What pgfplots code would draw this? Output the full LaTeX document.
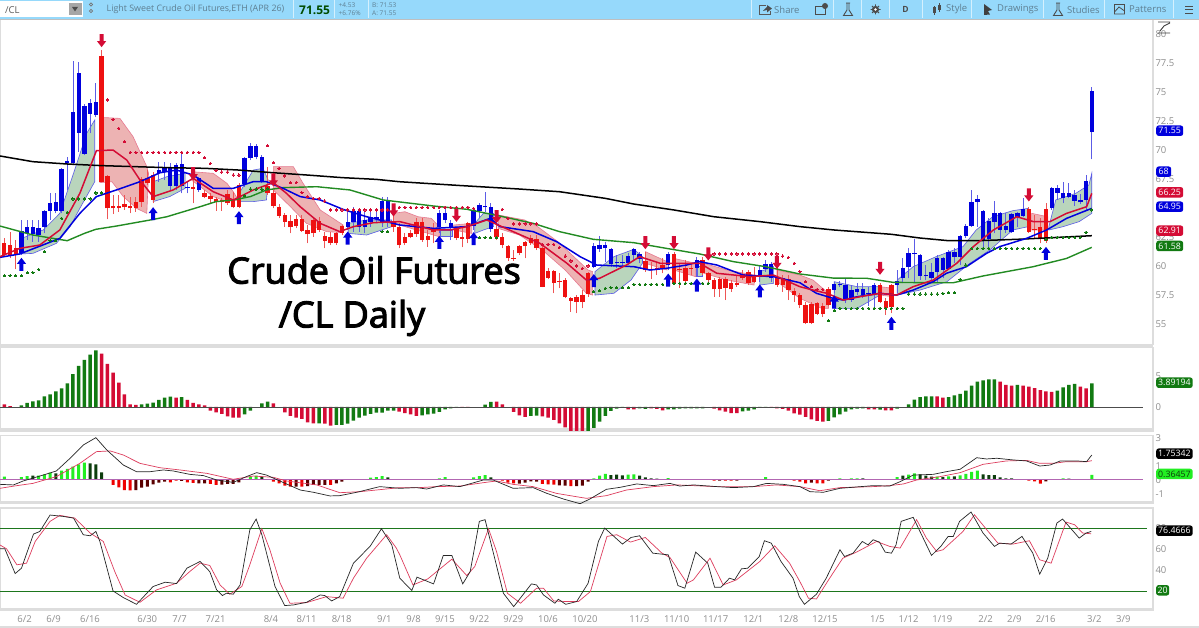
\documentclass[border=0pt]{standalone}
\usepackage{fontspec}
\usepackage{pgfplots}
\usepackage{pgfplotstable}
\pgfplotsset{compat=1.18}
\setmainfont{Open Sans}
\newfontfamily\bigf[FakeBold=3]{Open Sans}
\definecolor{tb}{HTML}{96D9FB}
\definecolor{tbt}{HTML}{5E7F92}
\definecolor{gt}{HTML}{8E8E8E}
\definecolor{cb}{HTML}{0000DD}
\definecolor{cbw}{HTML}{5C5CE6}
\definecolor{cr}{HTML}{EE1111}
\definecolor{crw}{HTML}{EE5555}
\definecolor{ar}{HTML}{D40C35}
\definecolor{gfill}{HTML}{B9D5BC}
\definecolor{rfill}{HTML}{EDB3B3}
\definecolor{gline}{HTML}{228B22}
\definecolor{hg}{HTML}{127A12}
\definecolor{hr}{HTML}{D40C35}
\definecolor{mlg}{HTML}{22EE22}
\definecolor{mdg}{HTML}{0D3D0D}
\definecolor{mr}{HTML}{EE0000}
\definecolor{mdr}{HTML}{5A0000}
\definecolor{sep}{HTML}{DDDDDD}
\pgfdeclareplotmark{dnarrow}{%
 \pgfpathmoveto{\pgfqpoint{-2pt}{6.5pt}}%
 \pgfpathlineto{\pgfqpoint{2pt}{6.5pt}}%
 \pgfpathlineto{\pgfqpoint{2pt}{-.5pt}}%
 \pgfpathlineto{\pgfqpoint{4.6pt}{-.5pt}}%
 \pgfpathlineto{\pgfqpoint{0pt}{-6.5pt}}%
 \pgfpathlineto{\pgfqpoint{-4.6pt}{-.5pt}}%
 \pgfpathlineto{\pgfqpoint{-2pt}{-.5pt}}%
 \pgfpathclose\pgfusepathqfill}
\pgfdeclareplotmark{uparrow}{%
 \pgfpathmoveto{\pgfqpoint{-2pt}{-6.5pt}}%
 \pgfpathlineto{\pgfqpoint{2pt}{-6.5pt}}%
 \pgfpathlineto{\pgfqpoint{2pt}{.5pt}}%
 \pgfpathlineto{\pgfqpoint{4.6pt}{.5pt}}%
 \pgfpathlineto{\pgfqpoint{0pt}{6.5pt}}%
 \pgfpathlineto{\pgfqpoint{-4.6pt}{.5pt}}%
 \pgfpathlineto{\pgfqpoint{-2pt}{.5pt}}%
 \pgfpathclose\pgfusepathqfill}
\pgfplotstableread{
i L B T H
3 60.98 61.12 63.07 63.99
4 62.27 62.84 63.36 63.99
5 62.13 62.76 63.36 63.99
6 62.13 62.70 63.27 63.99
7 62.84 63.36 64.79 64.85
8 63.99 64.79 65.42 66.28
9 64.56 64.79 65.50 66.34
10 64.56 64.79 68.34 68.43
11 66.57 68.86 69.09 69.43
12 68.71 68.91 73.24 77.68
13 69.86 71.49 76.59 77.59
14 69.57 69.66 73.78 73.96
15 71.43 73.10 74.01 74.36
16 72.81 73.01 74.10 75.79
27 67.28 68.00 68.29 68.99
28 67.42 68.14 68.43 68.99
29 66.57 66.91 68.49 68.86
30 66.57 66.91 68.71 68.91
31 66.28 66.91 68.77 69.86
32 66.28 66.71 66.85 67.28
34 66.42 66.57 67.57 67.71
42 66.85 67.08 69.34 69.43
43 69.14 69.34 70.37 70.57
44 69.20 69.43 70.37 70.52
45 67.14 67.28 69.43 69.57
60 63.13 63.42 63.85 64.70
61 62.99 63.85 64.79 65.13
62 62.99 63.42 64.79 64.99
63 62.84 63.42 63.99 64.70
64 63.42 63.85 64.27 64.99
65 63.70 64.05 64.27 64.85
66 63.42 63.76 65.62 66.00
67 63.42 63.76 65.62 66.00
76 62.84 63.36 64.62 64.85
77 63.70 63.99 64.62 64.90
78 62.27 63.36 63.76 63.99
82 63.13 63.50 64.85 64.99
83 64.13 64.76 65.28 65.48
84 64.70 65.08 65.19 66.42
85 62.99 63.19 65.08 65.48
103 59.84 59.98 61.78 61.98
104 61.27 61.47 61.84 62.61
105 60.41 61.55 61.84 62.13
106 59.98 60.18 61.50 61.55
107 59.84 60.27 60.41 60.98
108 59.98 60.32 60.41 60.98
109 60.12 60.27 60.93 61.12
110 60.55 60.98 61.47 61.55
111 60.27 60.61 61.07 61.27
116 59.69 60.12 61.07 61.27
121 59.12 59.89 60.55 60.84
132 58.69 59.12 59.69 60.12
133 59.55 59.75 60.18 60.55
134 58.69 58.98 60.18 60.41
145 57.69 57.97 58.49 58.69
146 58.26 58.37 58.49 58.75
147 56.83 57.11 58.40 58.98
148 56.97 57.11 57.97 58.40
149 57.54 57.83 58.06 58.55
150 57.26 57.54 58.03 58.55
151 56.60 57.63 57.69 58.20
152 56.40 57.54 58.40 58.60
156 57.69 58.40 58.78 59.69
157 58.55 58.98 59.84 60.69
158 58.98 59.98 61.12 61.55
159 58.69 61.07 61.12 62.33
160 58.83 59.18 60.98 61.07
161 58.83 59.18 59.26 60.12
162 58.55 58.98 59.55 60.27
163 58.55 59.55 60.69 60.98
164 58.98 59.69 60.69 60.84
165 59.69 59.75 61.27 61.41
166 60.27 60.84 61.21 61.55
167 60.12 60.84 62.61 62.70
168 62.41 62.61 63.50 63.65
169 63.42 63.50 65.57 66.57
170 63.42 65.57 65.77 66.14
171 61.55 62.27 64.76 64.85
172 61.41 62.33 63.93 64.13
173 62.84 63.85 64.56 65.62
174 62.27 63.13 64.62 64.70
175 62.84 63.13 63.47 64.56
176 62.90 62.99 64.48 64.56
177 63.42 64.27 64.56 64.70
178 64.27 64.33 64.93 65.85
183 64.85 64.99 66.71 66.85
184 65.71 66.34 66.71 67.00
185 65.42 65.92 66.34 67.28
186 65.85 66.00 66.34 67.20
187 65.19 65.62 66.14 66.57
188 65.36 65.50 65.71 66.22
189 64.85 65.71 67.37 67.85
190 69.20 71.55 75.10 75.39
}\bluecandles
\pgfplotstableread{
i L B T H
0 60.84 60.98 61.98 62.41
1 60.69 60.98 61.84 62.99
2 59.75 61.07 61.55 62.27
17 67.28 67.28 78.08 78.60
18 64.05 64.99 67.77 67.85
19 64.50 64.99 65.19 66.14
20 64.70 64.99 65.22 66.14
21 64.85 65.08 65.36 66.14
22 64.56 64.99 65.19 66.00
23 64.70 64.99 65.57 66.00
24 65.13 65.57 67.48 67.71
25 67.00 67.20 67.57 68.29
26 65.42 65.71 67.85 68.14
33 65.42 66.65 66.85 68.00
35 65.85 66.00 66.34 66.57
36 65.42 65.77 66.05 66.28
37 64.79 65.50 65.77 66.00
38 64.79 65.50 65.71 65.85
39 65.28 65.42 66.22 66.57
40 64.99 65.08 65.80 66.42
41 64.99 65.08 67.00 67.14
46 66.14 66.28 66.91 68.57
47 64.99 65.22 66.34 66.57
48 64.13 64.36 65.13 65.36
49 63.42 63.85 64.42 64.56
50 62.84 63.36 63.93 64.42
51 63.27 63.47 64.05 64.42
52 62.99 63.07 64.05 64.42
53 61.98 62.76 63.13 63.56
54 62.56 62.84 63.99 64.27
55 62.99 63.13 63.93 64.27
56 61.55 62.21 62.61 62.99
57 61.84 61.98 62.56 62.99
58 61.84 61.98 62.84 62.99
59 62.70 62.90 63.47 63.56
68 62.99 63.42 63.85 64.56
69 61.55 61.84 63.42 63.70
70 61.84 61.98 62.50 62.84
71 62.41 62.50 62.84 63.13
72 62.56 62.76 63.85 64.13
73 62.13 62.27 63.85 64.13
74 61.70 62.27 62.61 63.13
75 61.98 62.99 63.27 63.70
79 62.27 62.41 63.27 63.42
80 61.64 62.38 62.50 63.27
81 61.98 62.36 63.70 63.85
86 62.27 62.50 63.19 64.85
87 61.55 61.84 62.50 62.84
88 60.49 60.69 61.78 61.84
89 60.49 60.66 60.72 61.41
90 60.98 61.12 61.78 61.84
91 60.69 61.75 62.13 62.21
92 61.84 62.04 62.41 62.70
93 61.41 61.55 62.36 62.70
94 58.20 58.26 61.55 61.84
95 58.89 59.00 59.64 59.84
96 57.69 58.60 59.64 59.69
97 58.12 58.66 58.75 59.41
98 57.26 57.40 58.83 58.98
99 56.11 57.03 57.32 57.40
100 55.97 56.97 57.40 57.54
101 56.40 56.97 57.54 57.97
102 57.40 57.63 59.41 59.55
112 59.55 59.69 60.49 61.27
113 58.89 59.69 59.75 60.41
114 59.26 59.69 59.89 60.27
115 59.41 59.84 60.12 60.69
117 58.55 58.60 61.07 61.27
118 58.12 59.75 59.81 60.27
119 58.69 58.75 59.84 60.55
120 59.26 59.78 59.84 60.27
122 59.26 59.41 60.55 60.84
123 58.55 58.83 59.41 59.55
124 57.40 58.03 58.83 58.98
125 57.40 58.09 58.89 59.12
126 57.11 58.12 58.89 59.12
127 57.83 58.03 58.55 58.83
128 58.26 58.40 58.60 59.26
129 58.83 58.98 59.35 59.69
130 58.40 58.60 59.55 59.69
131 58.55 58.69 59.26 59.98
135 58.26 58.40 58.98 60.84
136 57.83 58.40 58.98 59.26
137 57.11 57.97 58.89 59.26
138 56.97 57.54 57.92 58.12
139 56.40 56.68 57.54 57.69
140 55.05 55.11 56.68 56.97
141 55.05 55.11 56.77 56.97
142 55.83 55.91 56.83 56.97
143 55.68 55.88 56.60 56.83
144 56.60 56.68 58.03 58.20
153 56.83 56.97 58.37 58.60
154 55.83 56.40 57.06 57.26
155 55.97 56.54 58.40 58.49
179 62.90 62.99 64.90 65.13
180 62.41 63.13 63.19 64.42
181 61.98 62.33 63.36 64.13
182 62.04 62.21 64.93 65.42
}\redcandles
\pgfplotsset{panel/.style={scale only axis, width=1153pt, xmin=-0.75, xmax=200.7,
  anchor=south west, axis line style={draw=sep,line width=1.4pt},
  tick style={draw=none}, xtick=\empty, ymajorgrids=false,
  yticklabel pos=right, yticklabel style={anchor=west,text=gt,font=\fontsize{9.5}{11}\selectfont,xshift=-1pt},
  clip=true},
  sar/.style={only marks,mark=*,mark size=1.15pt,mark options={draw=#1,fill=#1,line width=0pt}},
  wk/.style 2 args={draw=none,no marks,error bars/.cd,y dir=plus,y explicit,error mark=none,error bar style={line width=#1,color=#2}}}
\begin{document}
\begin{tikzpicture}[x=1pt,y=1pt]
\useasboundingbox (0,0) rectangle (1199,628);
\fill[white] (0,0) rectangle (1199,628);
\fill[sep] (0,280.3) rectangle (1153,284);
\fill[sep] (0,197) rectangle (1153,200.3);
\fill[sep] (0,124.3) rectangle (1153,126.7);
\fill[sep] (0,18) rectangle (1153,19.5);
\fill[sep] (0,0) rectangle (1199,2.2);
%% main
\begin{axis}[panel, at={(0pt,283.7pt)}, height=325.3pt, ymin=53.31, ymax=81.26,
  ytick={55,57.5,60,62.5,65,67.5,70,72.5,75,77.5,80},
  yticklabels={55,57.5,60,62.5,65,67.5,70,72.5,75,77.5,80}]
\pgfplotsset{gc/.style={fill=gfill,draw=cbw,line width=.6pt},rc/.style={fill=rfill,draw=ar!55!white,line width=.6pt}}
\addplot[gc] coordinates {(3,62.41)(6.8,63.13)(9.7,64.56)(12.1,68)(14.4,71.44)(15.8,72.58)(15.8,67.28)(13.2,64.99)(11.5,63.42)(9.1,61.98)(5,61.12)(2.7,61.07)} -- cycle;
\addplot[rc] coordinates {(16.7,72.81)(20.2,72.72)(22.5,71.15)(24.9,68.57)(25.2,68)(24.9,64.56)(23.1,64.99)(20.8,66)(18.8,67.28)(16.7,67.2)} -- cycle;
\addplot[gc] coordinates {(26,67.28)(28.4,67.71)(31.6,68)(31.6,66.71)(28.9,66)(26,65.57)} -- cycle;
\addplot[rc] coordinates {(32.7,68.14)(36.5,68)(38.9,67.14)(40,66.42)(40.9,65.71)(38.9,65.57)(36.5,66)(32.7,67.43)} -- cycle;
\addplot[gc] coordinates {(41.2,66.42)(43.5,68.28)(45.2,68.43)(46.1,67.43)(45.8,65.71)(43.5,65.57)(41.2,65.57)} -- cycle;
\addplot[rc] coordinates {(47,68.57)(50.5,68.57)(52.2,67.14)(55.2,64.85)(59.2,63.56)(59.2,62.9)(56.3,62.99)(52.8,63.7)(50,65.13)(47,66.57)} -- cycle;
\addplot[gc] coordinates {(60.1,63.7)(63.3,63.99)(67.7,63.99)(67.7,63.42)(63.3,62.7)(60.1,62.84)} -- cycle;
\addplot[rc] coordinates {(68,64.56)(70,64.7)(72.3,64.27)(74.6,64.13)(76,63.42)(76,62.55)(73,62.99)(70,63.42)(68,63.7)} -- cycle;
\addplot[gc] coordinates {(76.2,63.13)(78.2,63.13)(78.2,62.56)(76.2,62.56)} -- cycle;
\addplot[rc] coordinates {(78.5,63.56)(81.7,63.7)(81.7,62.84)(78.5,63.13)} -- cycle;
\addplot[gc] coordinates {(82.2,63.7)(83.7,64.56)(85.5,64.56)(85.5,63.42)(83.7,63.13)(82.2,62.84)} -- cycle;
\addplot[rc] coordinates {(86.3,64.42)(90.9,63.99)(93.2,63.42)(96.7,62.13)(102,59.69)(102.8,59.55)(102.8,57.54)(101.7,57.69)(98,59.69)(94,61.41)(90,62.7)(86.3,63.27)} -- cycle;
\addplot[gc] coordinates {(103.2,59.55)(106.5,60.84)(110,61.47)(111.5,60.84)(111.5,60.27)(109.5,58.83)(106.5,57.69)(103.2,57.54)} -- cycle;
\addplot[rc] coordinates {(112,61.27)(115.8,60.41)(115.8,59.69)(112,60.27)} -- cycle;
\addplot[rc] coordinates {(117,60.69)(120.8,60.27)(120.8,59.12)(117,59.69)} -- cycle;
\addplot[gc] coordinates {(121,59.98)(122,59.98)(122,59.12)(121,59.12)} -- cycle;
\addplot[rc] coordinates {(122.2,60.27)(126.3,59.69)(131,59.26)(131,58.4)(126.3,58.83)(122.2,59.41)} -- cycle;
\addplot[gc] coordinates {(132,59.55)(134.4,59.98)(134.4,58.55)(132,58.4)} -- cycle;
\addplot[rc] coordinates {(135,59.69)(139,59.26)(141.3,58.83)(144,57.69)(144,56.4)(142.8,56.4)(139,57.26)(135,58.69)} -- cycle;
\addplot[gc] coordinates {(145,58.69)(149,58.26)(153,58.26)(153,57.54)(149,56.4)(145,56.4)} -- cycle;
\addplot[rc] coordinates {(153,58.26)(155.3,58.12)(155.3,57.4)(153,57.54)} -- cycle;
\addplot[gc] coordinates {(156,58.83)(158.8,59.98)(162.8,60.84)(167.5,61.7)(169.8,63.13)(172.7,64.27)(176.2,64.79)(178.9,64.99)(178.9,63.42)(176.2,63.13)(172.2,61.41)(168.7,60.27)(164.7,58.69)(160,57.97)(156,57.54)} -- cycle;
\addplot[rc] coordinates {(179.5,64.56)(182.3,64.27)(182.3,63.13)(179.5,63.13)} -- cycle;
\addplot[gc] coordinates {(182.5,63.42)(183.7,65.71)(187.2,66.28)(189.5,67)(190,68)(190,64.56)(187.8,63.85)(185,63.42)(182.5,63.13)} -- cycle;
%% wicks and bodies
\addplot[wk={.9pt}{cbw}] table[x=i,y=L,y error expr=\thisrow{H}-\thisrow{L}] {\bluecandles};
\addplot[wk={.9pt}{crw}] table[x=i,y=L,y error expr=\thisrow{H}-\thisrow{L}] {\redcandles};
\addplot[wk={4.4pt}{cb}] table[x=i,y=B,y error expr=\thisrow{T}-\thisrow{B}] {\bluecandles};
\addplot[wk={4.4pt}{cr}] table[x=i,y=B,y error expr=\thisrow{T}-\thisrow{B}] {\redcandles};
%% green long MA
\addplot[gline,line width=1.4pt] coordinates {(-.75,63.47)(5,62.7)(11,62.21)(14,62.84)(16,63.19)(19.6,63.47)(25.5,63.99)(28.4,64.27)(34.2,65.13)(37,65.57)(40,65.71)(43,66)(45.8,66.57)(48.7,66.77)(54.6,66.85)(60.4,66.57)(66.2,65.71)(75,65.19)(80.8,64.91)(86.6,64.33)(92.4,63.7)(97,62.99)(102.9,62.33)(110,62.04)(115.7,61.55)(121.5,61.07)(127.4,60.41)(133,59.98)(139,59.35)(144.8,59)(150.7,58.98)(155.3,58.63)(162.3,58.6)(165.8,58.6)(171,59.18)(179.8,59.98)(185.6,60.69)(190,61.64)};
%% black MA
\addplot[black,line width=1.5pt] coordinates {(-.75,69.49)(5,69)(11,68.8)(17,68.66)(23,68.57)(29,68.48)(35,68.43)(41,68.28)(47,68.05)(53,67.85)(59,67.63)(65,67.48)(69,67.28)(80,66.94)(90,66.65)(97,66.42)(105,65.85)(110,65.36)(117,64.85)(124,64.27)(132,63.85)(139,63.42)(145,63.13)(155,62.76)(160,62.44)(165,62.21)(170,62.21)(177,62.33)(183,62.47)(190,62.64)};
%% blue
\addplot[cb,line width=1.5pt] coordinates {(-.75,60.78)(2.7,61.07)(9.7,62.41)(13.2,64.56)(16.1,66)(19.6,66.57)(23.7,67.28)(27.2,68.05)(30.1,68.28)(33,67.85)(36.5,66.71)(40,66.71)(43.5,67.28)(45.8,67.28)(48.7,66.71)(51.7,66)(55.2,65.71)(59.2,64.9)(63.3,64.27)(69.1,63.56)(75,63.27)(80.8,63.42)(84.9,64.13)(86.6,63.42)(92.4,62.99)(96.5,62.13)(100.6,60.84)(103.5,60.12)(110,59.98)(112.8,59.69)(115.7,59.84)(119.2,60.12)(121.5,60.41)(124.5,60.12)(129.1,59.26)(134.4,59.12)(139,58.6)(141.9,57.69)(144.8,57.26)(146.6,57.11)(149,57.4)(153,57.69)(155.9,57.54)(158.8,57.97)(162.3,58.69)(164.6,59.41)(168.1,59.98)(171.6,61.12)(173.9,61.7)(178.6,62.41)(182.1,63.13)(185.6,64.13)(190,64.99)};
%% red
\addplot[ar,line width=1.5pt] coordinates {(-.75,60.84)(2.7,61.55)(6.2,61.84)(9.7,63.13)(13.2,66.28)(16.1,69.95)(19,70)(21.4,69.14)(23.7,67.43)(26,66)(29.5,66.57)(33,67.57)(36.5,66.42)(40,65.71)(43.5,66.57)(47,67.2)(49.3,66.28)(51.7,65.13)(55.2,63.7)(58.6,62.99)(61,63.42)(64.5,63.76)(69.1,63.85)(75,63.13)(77.9,63.13)(80.8,63.42)(84.3,63.99)(88.9,62.99)(93.6,61.98)(98.3,60.27)(101.7,58.83)(104,58.98)(108.7,60.12)(111,60.84)(114.6,60.27)(118,60.27)(121.5,60.27)(124.5,59.41)(130.3,59.12)(134.4,59.26)(139,58.26)(140.8,58.03)(143.7,57.69)(146.6,57.11)(149.5,57.4)(153,57.69)(155.9,57.54)(158.8,58.26)(162.3,58.83)(166.4,60.27)(169.3,61.7)(172.8,63.13)(176.9,64.27)(179.8,63.85)(182.7,63.85)(185.6,64.56)(189.1,65.13)(190,66.28)};
%% SAR
\addplot[sar=hg] coordinates {(0,59.2)(1,59.2)(2,59.2)(3,59.2)(4,59.46)(5,59.46)(6,59.75)(7,61.27)(8,62.21)(9,62.21)(10,64.13)(11,64.65)(12,65.8)(13,65.8)(14,65.8)(15,65.8)(16,66.31)(17,66.31)(42,66.08)(43,66.65)(44,66.65)(45,66.65)(46,66.71)(66,62.99)(67,62.99)(83,62.47)(84,62.47)(85,62.47)(86,62.47)(103,57.83)(104,57.92)(105,58.12)(106,58.17)(107,58.17)(108,58.17)(109,58.17)(110,58.46)(111,58.46)(112,58.46)(113,58.46)(114,58.46)(115,58.46)(116,58.46)(117,58.55)(118,58.55)(119,58.55)(120,58.55)(121,58.55)(122,58.55)(123,58.55)(144,55.34)(145,56.2)(146,56.4)(147,56.4)(148,56.4)(149,56.4)(150,56.4)(151,56.4)(152,56.4)(153,56.4)(154,56.4)(155,56.4)(156,56.4)(157,56.4)(158,57.63)(159,57.63)(160,57.63)(161,57.63)(162,57.63)(163,57.63)(164,57.68)(165,57.74)(166,57.74)(167,58.89)(168,60.12)(169,61.55)(170,61.55)(171,61.55)(172,61.55)(173,61.55)(174,61.55)(175,61.55)(176,61.55)(177,61.55)(178,61.55)(179,61.55)(180,61.55)(181,61.55)(182,62.33)(183,62.5)(184,62.5)(185,62.5)(186,62.5)(187,62.5)(188,62.5)(189,62.93)(190,64.85)};
\addplot[sar=ar] coordinates {(18,74.3)(19,72.64)(20,71.87)(21,70.72)(22,69.8)(23,69.8)(24,69.8)(25,69.8)(26,69.8)(27,69.8)(28,69.8)(29,69.8)(30,69.8)(31,69.8)(32,69.8)(33,69.8)(34,69.8)(35,69.34)(36,68.86)(37,68.23)(38,68.11)(39,68.11)(40,67.85)(41,67.85)(46,70.37)(47,68.91)(48,68.43)(49,67.77)(50,67.2)(51,67.2)(52,66.34)(53,66)(54,65.85)(55,65.85)(56,65.62)(57,64.85)(58,64.85)(59,64.85)(60,64.85)(61,64.85)(62,64.85)(63,64.85)(64,64.85)(65,64.85)(66,64.85)(67,64.85)(68,65.08)(69,65.08)(70,65.08)(71,65.08)(72,65.08)(73,65.08)(74,65.08)(75,65.08)(76,65.08)(77,65.08)(78,65.08)(79,65.08)(80,65.08)(81,65.08)(82,64.99)(87,64.9)(88,64.13)(89,63.65)(90,63.65)(91,63.65)(92,63.65)(93,63.65)(94,61.9)(95,61.9)(96,61.9)(97,61.64)(98,60.89)(99,60.47)(100,60.04)(101,59.84)(102,60.04)(124,61.07)(125,61.07)(126,61.07)(127,61.07)(128,61.07)(129,61.07)(130,61.07)(131,61.07)(132,61.07)(133,61.07)(134,61.07)(135,61.07)(136,60.89)(137,60.78)(138,60.27)(139,59.55)(140,58.69)(141,58.26)(142,58.03)(143,58.03)};
%% arrows
\addplot[only marks,mark=dnarrow,mark options={fill=ar,draw=none}] coordinates {(17,79.4)(33,67.97)(47,67.43)(68,64.85)(79,64.39)(86,64.27)(112,62.04)(117,62.04)(123,61.07)(135,60.35)(153,59.84)(179,66.14)};
\addplot[only marks,mark=uparrow,mark options={fill=cb,draw=none}] coordinates {(3,60.18)(26,64.53)(41,64.19)(60,62.44)(76,62.07)(82,62.38)(103,58.78)(116,58.83)(121,58.4)(132,57.89)(145,56.94)(155,55.11)(182,61.12)};
\end{axis}
%% histogram
\begin{axis}[panel, at={(0pt,197pt)}, height=83.3pt, ymin=-3.95, ymax=9.75, ytick={0,5}, yticklabels={0,5}]
\addplot[ybar,bar width=3.5pt,bar shift=0pt,fill=hg,draw=none] coordinates {(3,.27)(4,.66)(5,.93)(6,1.1)(7,1.75)(8,2.08)(9,2.58)(10,3.07)(11,3.89)(12,5.42)(13,6.74)(14,7.73)(15,8.6)(16,9.32)(24,.44)(25,.55)(26,.71)(27,1.15)(28,1.53)(29,1.7)(31,1.64)(42,-1.2)(43,-.6)(45,.6)(46,.88)(55,-2.68)(58,-2.96)(59,-2.96)(60,-2.74)(61,-2.25)(62,-1.75)(63,-1.42)(64,-1.15)(65,-.93)(66,-.93)(67,-.6)(68,-.6)(73,-1.37)(74,-1.2)(75,-1.1)(76,-.82)(77,-.38)(78,-.22)(79,-.05)(84,.38)(85,.82)(92,-1.48)(93,-1.42)(102,-4.05)(103,-3.45)(104,-2.41)(105,-1.48)(106,-.66)(107,-.27)(108,-.11)(111,-.22)(112,-.33)(116,-.38)(117,-.38)(118,-.27)(119,-.22)(120,-.22)(121,-.22)(122,-.22)(129,-.71)(130,-.6)(131,-.38)(132,-.11)(133,-.05)(144,-2.3)(145,-1.7)(146,-1.2)(147,-.77)(148,-.38)(149,-.27)(150,-.22)(153,-.44)(156,-.27)(158,.44)(159,1.2)(160,1.64)(161,1.75)(162,1.75)(165,1.64)(166,1.92)(167,2.14)(168,2.68)(169,3.5)(170,4.16)(171,4.38)(172,4.55)(173,4.55)(177,3.62)(184,2.68)(185,3.23)(186,3.62)(187,3.78)(190,3.89)};
\addplot[ybar,bar width=3.5pt,bar shift=0pt,fill=hr,draw=none] coordinates {(0,.44)(1,.16)(17,8.77)(18,7.07)(19,5.64)(20,4)(21,2.08)(22,.44)(23,.33)(30,1.53)(32,1.15)(33,.66)(34,.44)(35,.27)(36,-.6)(37,-.88)(38,-1.15)(39,-1.53)(40,-1.75)(41,-1.75)(47,.6)(49,-.88)(50,-1.48)(51,-1.75)(52,-1.97)(53,-2.52)(54,-2.68)(56,-2.74)(57,-3.07)(69,-.77)(70,-1)(71,-1.2)(72,-1.48)(80,-.05)(81,-.1)(86,.88)(87,.44)(89,-.82)(90,-1.37)(91,-1.64)(94,-1.53)(95,-1.75)(96,-2.14)(97,-2.68)(98,-3.34)(99,-3.95)(100,-4)(101,-4)(109,-.38)(110,-.38)(113,-.22)(114,-.33)(115,-.55)(124,-.27)(125,-.55)(126,-.77)(127,-1)(128,-1)(134,-.11)(135,-.22)(136,-.33)(137,-.6)(138,-1.04)(139,-1.26)(140,-1.64)(141,-2.03)(142,-2.3)(143,-2.41)(151,-.38)(152,-.38)(154,-.55)(155,-.55)(163,1.75)(164,1.53)(174,4.16)(175,3.62)(176,3.5)(178,3.5)(179,3.34)(180,3.12)(181,2.79)(182,2.58)(183,2.47)(188,3.34)(189,3.07)};
\addplot[black!70,line width=.9pt] coordinates {(-.75,0)(199,0)};
\end{axis}
%% MACD
\begin{axis}[panel, at={(0pt,124.3pt)}, height=68pt, ymin=-1.68, ymax=3.14, ytick={-1,0,1,3}, yticklabels={-1,0,1,3}]
\addplot[ybar,bar width=3pt,bar shift=0pt,fill=mlg,draw=none] coordinates {(0,.24)(3,.21)(4,.28)(6,.31)(7,.4)(8,.52)(10,.66)(11,.78)(12,.95)(13,1.11)(14,1.23)(43,.24)(44,.31)(63,.07)(64,.17)(65,.21)(66,.28)(76,.12)(77,.21)(82,.19)(83,.28)(84,.35)(103,.12)(104,.31)(105,.43)(109,.38)(110,.4)(116,.14)(132,.07)(133,.21)(146,.12)(148,.12)(149,.12)(156,.21)(158,.38)(159,.47)(163,.24)(165,.26)(167,.33)(168,.43)(169,.57)(170,.66)(184,.07)(185,.12)(190,.36)};
\addplot[ybar,bar width=3pt,bar shift=0pt,fill=mdg,draw=none] coordinates {(1,.07)(2,.05)(5,.31)(9,.47)(15,1.18)(16,1.11)(17,.54)(45,.24)(62,.03)(67,.19)(68,.07)(78,.07)(79,.05)(85,.19)(86,.05)(106,.35)(107,.38)(108,.33)(111,.31)(112,.19)(113,.12)(114,.09)(122,.05)(134,.07)(135,.05)(136,.05)(147,.07)(150,.12)(151,.07)(152,.05)(157,.31)(160,.4)(161,.31)(162,.24)(164,.21)(166,.26)(171,.4)(172,.35)(173,.35)(174,.19)(175,.12)(176,.12)(177,.05)(186,.09)(187,.05)};
\addplot[ybar,bar width=3pt,bar shift=0pt,fill=mr,draw=none] coordinates {(19,-.35)(20,-.52)(21,-.71)(22,-.73)(29,-.17)(30,-.05)(32,-.17)(33,-.21)(36,-.28)(37,-.35)(47,-.12)(48,-.24)(49,-.4)(50,-.47)(52,-.47)(57,-.35)(87,-.05)(88,-.19)(89,-.24)(94,-.28)(95,-.31)(96,-.33)(99,-.43)(124,-.05)(126,-.05)(127,-.05)(138,-.05)(139,-.12)(140,-.24)(142,-.24)(143,-.24)(179,-.05)(180,-.09)(181,-.26)};
\addplot[ybar,bar width=3pt,bar shift=0pt,fill=mdr,draw=none] coordinates {(23,-.71)(24,-.54)(25,-.47)(26,-.31)(27,-.19)(28,-.12)(31,-.07)(34,-.24)(35,-.24)(38,-.33)(39,-.28)(40,-.28)(41,-.17)(51,-.47)(53,-.43)(54,-.35)(55,-.35)(56,-.35)(58,-.24)(59,-.12)(90,-.26)(91,-.19)(92,-.09)(93,-.12)(97,-.38)(98,-.4)(100,-.43)(101,-.4)(102,-.12)(125,-.05)(128,-.05)(141,-.19)(144,-.05)(182,-.09)};
\addplot[violet!60!white,line width=1pt] coordinates {(-.75,0)(199,0)};
\addplot[ar!80!white,line width=.7pt] coordinates {(-.75,-.59)(2.2,-.4)(5,-.24)(9.1,.24)(13.2,1.18)(16.1,2.01)(18.5,2.06)(20.8,1.77)(23.7,1.18)(27.2,.87)(30.7,.71)(35.4,.47)(40,.05)(43.5,.28)(47,.19)(49.3,-.07)(54.6,-.35)(58.6,-.9)(62.1,-.83)(69.1,-.54)(72.6,-.54)(75.5,-.47)(79.6,-.43)(83.7,-.19)(86,-.07)(88.9,-.31)(92.4,-.47)(96.5,-.95)(101.7,-1.3)(105.2,-1.11)(108.7,-.71)(113.4,-.47)(117.5,-.35)(124.5,-.47)(130.9,-.47)(134.9,-.35)(139,-.47)(142.5,-.76)(146,-.54)(151.8,-.47)(154.7,-.4)(157.1,-.28)(159.4,0)(163.5,.24)(167,.52)(171,1.11)(175.1,1.35)(178.6,1.39)(180.9,1.18)(183.3,1.18)(185.6,1.3)(189.1,1.3)(190,1.37)};
\addplot[black!85,line width=.7pt] coordinates {(-.75,-.31)(1.6,-.35)(3.3,-.07)(6.8,.35)(9.1,.64)(11.5,1.54)(13.8,2.48)(16,3)(17.9,2.13)(20.8,1.06)(23.1,.59)(25.5,.59)(27.8,.71)(29.5,.64)(32.4,.4)(34.8,.31)(37.1,0)(40,-.17)(42.3,.24)(44.1,.52)(45.8,.35)(48.7,-.17)(51.7,-.71)(54,-.87)(56.9,-1.13)(58.6,-1.11)(61.6,-.87)(65.6,-.47)(69.1,-.59)(72,-.54)(73.8,-.64)(76.7,-.35)(79.6,-.47)(83.7,0)(85.4,0)(88.9,-.59)(92.4,-.54)(94.8,-.95)(97.7,-1.35)(100.6,-1.68)(102.3,-1.35)(105.2,-.66)(107.6,-.52)(110.5,-.28)(113.4,-.4)(116.3,-.24)(118,-.43)(120.4,-.35)(124.5,-.47)(127.4,-.54)(130.9,-.47)(133.2,-.24)(136.1,-.31)(139,-.47)(140.8,-.83)(143.1,-.87)(146,-.59)(151.8,-.4)(154.7,-.43)(156.5,-.12)(158.8,.35)(162.3,.4)(164.6,.59)(167,.76)(169.9,1.58)(171.6,1.49)(173.4,1.54)(176.3,1.42)(178.6,1.35)(180.9,.99)(182.7,1.06)(184.5,1.35)(187.4,1.35)(189.1,1.3)(190,1.77)};
\end{axis}
%% Stochastic
\begin{axis}[panel, at={(0pt,18pt)}, height=102pt, ymin=2.5, ymax=99.4, ytick={20,40,60,80}, yticklabels={20,40,60,80},
  xtick={3.55,8.62,14.97,24.98,30.63,36.92,46.59,52.82,58.94,66.39,71.52,76.99,83,88.93,94.99,101.45,110.95,117.47,124.28,130.86,136.98,143.39,152.53,158,163.89,171.46,176.47,181.94,190.45,195.51},
  xticklabels={6/2,6/9,6/16,6/30,7/7,7/21,8/4,8/11,8/18,9/1,9/8,9/15,9/22,9/29,10/6,10/20,11/3,11/10,11/17,12/1,12/8,12/15,1/5,1/12,1/19,2/2,2/9,2/16,3/2,3/9},
  major tick length=0pt, xticklabel style={text=gt,font=\fontsize{9.5}{11}\selectfont,yshift=-2pt}]
\addplot[gline!85!black,line width=.8pt] coordinates {(-.75,80)(199.7,80)};
\addplot[gline!85!black,line width=.8pt] coordinates {(-.75,20)(199.7,20)};
\addplot[ar!80!white,line width=.7pt] coordinates {(-.8,64.4)(.4,60.6)(2.2,45.4)(3.9,47)(5.4,67.6)(8,86.7)(9.7,92.4)(12.3,89.8)(15,75.6)(17.3,67.6)(19.3,39)(21.1,16.8)(23.7,9.8)(26.6,21.6)(30.1,27.9)(32.4,39)(34.2,47)(35.9,44.8)(37.7,26.3)(39.4,17.5)(41.5,24.8)(42.9,45.4)(45,79.7)(46.4,59.7)(48.2,27.9)(49.9,8.9)(52.8,9.5)(56.3,15.2)(59.2,13.7)(61,32.7)(63.3,51.7)(66.8,74)(68.5,61.3)(69.1,54.9)(71.4,26.3)(74,32.1)(78.2,50.8)(80.8,35.2)(82.2,43.8)(84.6,79.7)(86,58.1)(87.9,18.4)(90.2,8.9)(93,23.2)(94.2,23.2)(96,11.1)(98.3,10.5)(100.3,10.5)(102.4,20)(105.3,72.4)(107,74)(109.4,67)(112,71.4)(114.9,56.5)(116.3,52.4)(119.3,27.9)(120.4,31.1)(123.3,51.7)(125.6,26.3)(127.9,31.1)(132,48.6)(134.6,63.5)(137.2,47)(139,29.5)(140.5,13.7)(141.9,13)(144.2,32.7)(146.5,51.7)(148.9,57.5)(152.4,67.6)(154.7,62.9)(156.5,61.3)(159.4,88.3)(161.1,70.8)(162.9,58.1)(164,59.7)(167.5,77.1)(169.5,93)(171.9,77.1)(173.6,66)(176.2,65.1)(179.1,68.3)(180.9,50.2)(182.9,47)(185.5,86)(187,83.5)(188.4,75.6)(189.9,74.9)};
\addplot[black!85,line width=.7pt] coordinates {(-.8,60.6)(.1,60.6)(1.9,37.1)(3,42.2)(5.1,74.6)(6.2,77.1)(8,92.7)(10.3,91.4)(12.1,89.8)(13.8,74)(15,73)(16,77.1)(16.7,67.6)(19,20.6)(20.8,14.3)(23.1,7.9)(26,24.8)(28.1,28.9)(30.1,27.6)(31.9,42.2)(34.2,48.6)(35.9,39)(37.1,21.6)(38.1,16.2)(38.8,18.4)(40,17.5)(41.2,26.3)(42.9,78.7)(44,88.9)(45,74)(47.3,24.8)(49,6.7)(50.5,7.3)(52.8,9.8)(55.2,16.8)(56,16.2)(57.2,11.1)(58.6,15.2)(61,47)(63.9,62.9)(65.9,79.7)(67.7,64.4)(69.1,32.7)(71.2,21)(72.1,33.7)(75,27.3)(76.7,54.3)(78.2,54.3)(80.1,27.3)(81.4,39)(83,86.7)(84,88.3)(87.2,18.4)(89,5.7)(92.1,27.3)(93,26.3)(94.2,16.8)(96.2,8.9)(96.8,12.7)(98.1,7.9)(100,10.5)(102,27.9)(103.8,67.6)(104.9,80.3)(108,65.1)(109.5,71.4)(111,73)(113.3,56.5)(116,54.9)(117.7,25.7)(118.9,23.2)(120.8,57.5)(122.9,47)(124.1,24.1)(125.2,24.1)(126.7,32.7)(127.6,31.1)(128.8,41.6)(129.9,42.2)(131.9,53.3)(132.8,68.3)(134,66)(135.7,48.6)(137.8,32.7)(138.9,15.2)(139.8,7.9)(141.9,17.5)(143.6,32.7)(146,59.7)(146.8,53.3)(148.3,56.5)(149.9,67.6)(150.9,64.4)(151.8,69.2)(152.9,67)(153.9,57.5)(155,56.5)(155.8,64.4)(156.7,86.7)(158.8,90.5)(162,54.3)(163.7,63.5)(164.9,72.4)(165.8,72.4)(166.9,86.7)(168.9,95.6)(171,75.6)(173,62.9)(173.9,66)(175.9,65.1)(177.8,72.4)(179.7,56.5)(180.9,36.5)(182.3,51.7)(183.9,85.1)(184.9,88.9)(187.8,70.8)(189,75.6)(189.9,77.1)};
\end{axis}
%% value labels
\newcommand\vlab[5]{\node[fill=#1,text=#2,rounded corners=2.5pt,inner sep=0pt,anchor=west,minimum height=10.5pt,minimum width=#3pt,font=\fontsize{8.8}{10}\selectfont] at (1156,{628-#4}) {#5};}
\vlab{cb}{white}{27}{130.7}{71.55}
\vlab{cb}{white}{15}{171.7}{68}
\vlab{ar}{white}{27}{192.3}{66.25}
\vlab{cb}{white}{27}{206.7}{64.95}
\vlab{ar}{white}{27}{230.7}{62.91}
\vlab{hg}{white}{27}{246}{61.58}
\vlab{hg}{white}{36.5}{382.7}{3.89194}
\vlab{black}{white}{36.5}{453.7}{1.75342}
\vlab{mlg}{mdg}{36.5}{474}{0.36457}
\vlab{black}{white}{36.5}{530.7}{76.4666}
\vlab{hg}{white}{13}{590.3}{20}
%% big text
\node[font=\bigf\fontsize{36}{44}\selectfont,text=black,inner sep=0pt] at (374,358) {Crude Oil Futures};
\node[font=\bigf\fontsize{36}{44}\selectfont,text=black,inner sep=0pt] at (352,310) {/CL Daily};
%% toolbar
\fill[tb] (0,609.3) rectangle (1199,628);
\fill[black!25] (0,608.5) rectangle (1199,609.3);
\fill[white] (0,611) rectangle (83,627);
\fill[black!35] (68.5,613) rectangle (81.5,625);
\fill[black!70] (72,621) -- (78,621) -- (75,616.5) -- cycle;
\node[anchor=west,inner sep=0pt,text=black!65,font=\fontsize{9.5}{11}\selectfont] at (5,618) {/CL};
\draw[black!55,line width=.8pt] (91,623.5) circle (1.6) (91,617) circle (1.6);
\node[anchor=west,inner sep=0pt,text=tbt,font=\fontsize{8.9}{11}\selectfont] at (106.5,618.5) {Light Sweet Crude Oil Futures,ETH (APR 26)};
\node[anchor=west,inner sep=0pt,text=green!30!black,font=\bfseries\fontsize{12}{14}\selectfont] at (299,618) {71.55};
\node[anchor=west,inner sep=0pt,text=tbt,font=\fontsize{6.5}{7}\selectfont] at (338.5,622.5) {+4.53};
\node[anchor=west,inner sep=0pt,text=tbt,font=\fontsize{6.5}{7}\selectfont] at (338.5,614.5) {+6.76\%};
\node[anchor=west,inner sep=0pt,text=tbt,font=\fontsize{6.5}{7}\selectfont] at (372,622.5) {B: 71.53};
\node[anchor=west,inner sep=0pt,text=tbt,font=\fontsize{6.5}{7}\selectfont] at (372,614.5) {A: 71.55};
\foreach \s in {293,334,368,751.5,833,861,889,922,971,1043,1104,1173}{\draw[white!60!tb,line width=.6pt] (\s,610) -- (\s,628);}
\draw[black!65,line width=.9pt] (766,623) -- (759,623) -- (759,613.5) -- (770,613.5) -- (770,617);
\fill[black!70] (763,617) -- (767,621) -- (767,623) -- (772,619.5) -- (767,615.5) -- (767,618) -- cycle;
\node[anchor=west,inner sep=0pt,text=tbt,font=\fontsize{9.5}{11}\selectfont] at (774,618.5) {Share};
\draw[black!70,line width=.9pt] (815,613.5) rectangle (825,622);
\fill[black!70] (825,622) circle (3);
\draw[black!70,line width=.9pt] (846,625) -- (850,625) (847,625) -- (847,618) -- (843.5,612.5) -- (852.5,612.5) -- (849,618) -- (849,625);
\fill[black!70] (875.5,618.5) circle (3.6);
\draw[black!70,line width=.8pt] (870.5,618.5) -- (880.5,618.5) (875.5,613.5) -- (875.5,623.5) (872,615) -- (879,622) (872,622) -- (879,615);
\fill[white] (875.5,618.5) circle (1.4);
\node[inner sep=0pt,text=black!70,font=\bfseries\fontsize{8.5}{10}\selectfont] at (905.5,618.5) {D};
\draw[black!70,line width=.9pt] (934,613) -- (934,622) (939,616) -- (939,625);
\fill[black!70] (932.5,615) rectangle (935.5,620.5);
\fill[black!70] (937.5,618) rectangle (940.5,623);
\node[anchor=west,inner sep=0pt,text=tbt,font=\fontsize{9.5}{11}\selectfont] at (946,618.5) {Style};
\fill[black!75] (984,624) -- (992,618) -- (988,617) -- (990,613.5) -- (984,613) -- cycle;
\node[anchor=west,inner sep=0pt,text=tbt,font=\fontsize{9.5}{11}\selectfont] at (997,618.5) {Drawings};
\draw[black!70,line width=.9pt] (1056,625) -- (1060,625) (1057,625) -- (1057,618) -- (1053.5,612.5) -- (1062.5,612.5) -- (1059,618) -- (1059,625);
\node[anchor=west,inner sep=0pt,text=tbt,font=\fontsize{9.5}{11}\selectfont] at (1067,618.5) {Studies};
\draw[black!70,line width=.8pt] (1114.5,614) rectangle (1124.5,623.5) (1114.5,616) -- (1119,621) -- (1124.5,617);
\node[anchor=west,inner sep=0pt,text=tbt,font=\fontsize{9.5}{11}\selectfont] at (1129,618.5) {Patterns};
\draw[black!70,line width=.9pt] (1185,622) -- (1193,622) (1185,618.5) -- (1193,618.5) (1185,615) -- (1193,615);
%% chart icon on the price scale
\draw[black!75,line width=.9pt] (1158,606) -- (1170,606) (1158,595) -- (1170,595) (1160,597) -- (1164,602) -- (1170,605);
\end{tikzpicture}
\end{document}
